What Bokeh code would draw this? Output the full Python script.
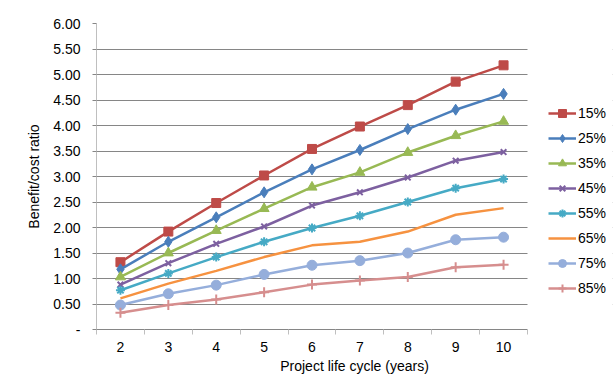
from bokeh.plotting import figure
from bokeh.models import (FixedTicker, Legend, LegendItem, CustomJSTickFormatter,
                          BoxAnnotation)
from bokeh.embed import file_html
from bokeh.resources import INLINE

years = [2, 3, 4, 5, 6, 7, 8, 9, 10]
r15 = [1.32, 1.92, 2.48, 3.02, 3.54, 3.98, 4.40, 4.86, 5.18]
r25 = [1.18, 1.72, 2.20, 2.69, 3.14, 3.52, 3.93, 4.31, 4.62]
r35 = [1.03, 1.50, 1.94, 2.37, 2.79, 3.08, 3.47, 3.80, 4.08]
r45 = [0.88, 1.30, 1.68, 2.02, 2.43, 2.69, 2.98, 3.31, 3.48]
r55 = [0.77, 1.10, 1.42, 1.72, 1.99, 2.23, 2.50, 2.77, 2.95]
r65 = [0.61, 0.90, 1.15, 1.42, 1.65, 1.72, 1.92, 2.25, 2.38]
r75 = [0.48, 0.70, 0.87, 1.08, 1.26, 1.35, 1.50, 1.76, 1.81]
r85 = [0.33, 0.48, 0.59, 0.73, 0.88, 0.96, 1.03, 1.22, 1.27]

labels = ["15%", "25%", "35%", "45%", "55%", "65%", "75%", "85%"]
series = [r15, r25, r35, r45, r55, r65, r75, r85]
colors = ["#BE4B48", "#4A7EBB", "#98B954", "#7D60A0", "#46AAC5", "#F69240", "#95AEDB", "#D68E8E"]
markers = ["square", "diamond", "triangle", "x", "asterisk", None, "circle", "cross"]
msizes = [9, 11, 10, 8, 9, 0, 10, 10]

y_ticks = [0, 0.5, 1.0, 1.5, 2.0, 2.5, 3.0, 3.5, 4.0, 4.5, 5.0, 5.5, 6.0]
grid_ticks = [0.5, 1.0, 1.5, 2.0, 2.5, 3.0, 3.5, 4.0, 4.5, 5.0, 5.5]

FONT = "Liberation Sans"

x_lo = years[0] - 0.5
x_hi = years[-1] + 0.5
# frame extends to the right so the legend can sit inside it
x_view_end = x_hi + 85 / (431 / 9)

p = figure(width=608, height=383, margin=(7, 0, 0, 8),
           x_range=(x_lo, x_view_end), y_range=(0, 6),
           output_backend="svg", toolbar_location=None,
           min_border_left=88, min_border_right=4,
           min_border_top=16, min_border_bottom=61)
p.outline_line_color = None
p.background_fill_color = "white"
p.border_fill_color = "white"

# grid
p.xgrid.visible = False
p.ygrid.ticker = FixedTicker(ticks=grid_ticks)
p.ygrid.grid_line_color = "#868686"
p.ygrid.grid_line_width = 1

# white mask covering grid lines right of the plot area
mask = BoxAnnotation(left=x_hi, fill_color="white", fill_alpha=1.0,
                     line_color=None, level="underlay")
p.add_layout(mask)

items = []
for lab, vals, col, mk, ms in zip(labels, series, colors, markers, msizes):
    rs = [p.line(years, vals, line_color=col, line_width=2.5)]
    if mk is not None:
        lw = 2 if mk in ("x", "asterisk", "cross") else 1
        rs.append(p.scatter(years, vals, marker=mk, size=ms, fill_color=col,
                            line_color=col, line_width=lw))
    items.append(LegendItem(label=lab, renderers=rs))

legend = Legend(items=items, location=(452, 31), padding=0, margin=0,
                spacing=5, glyph_width=28, glyph_height=20, label_height=20,
                label_standoff=2, border_line_color=None,
                background_fill_alpha=0,
                label_text_font=FONT, label_text_font_size="14px",
                label_text_color="black")
p.add_layout(legend, "center")

# y axis
ya = p.yaxis[0]
ya.ticker = FixedTicker(ticks=y_ticks)
ya.formatter = CustomJSTickFormatter(code="return tick == 0 ? '-' : tick.toFixed(2);")
ya.axis_line_color = "#bfbfbf"
ya.major_tick_line_color = "#868686"
ya.major_tick_out = 4
ya.major_tick_in = 0
ya.minor_tick_line_color = None
ya.major_label_standoff = 12
ya.major_label_text_font = FONT
ya.major_label_text_font_size = "14px"
ya.major_label_text_color = "black"
ya.axis_label = "Benefit/cost ratio"
ya.axis_label_text_font = FONT
ya.axis_label_text_font_size = "14px"
ya.axis_label_text_font_style = "normal"
ya.axis_label_text_color = "black"
ya.axis_label_standoff = 8

# x axis
xa = p.xaxis[0]
bounds = [y - 0.5 for y in years] + [years[-1] + 0.5]
xa.bounds = (x_lo, x_hi)
xa.ticker = FixedTicker(ticks=years, minor_ticks=bounds)
xa.axis_line_color = "#868686"
xa.major_tick_line_color = None
xa.major_tick_out = 0
xa.major_tick_in = 0
xa.minor_tick_line_color = "#bfbfbf"
xa.minor_tick_out = 5
xa.minor_tick_in = 0
xa.major_label_standoff = 7
xa.major_label_text_font = FONT
xa.major_label_text_font_size = "14px"
xa.major_label_text_color = "black"
xa.axis_label = "Project life cycle (years)"
xa.axis_label_text_font = FONT
xa.axis_label_text_font_size = "14px"
xa.axis_label_text_font_style = "normal"
xa.axis_label_text_color = "black"
xa.axis_label_standoff = 3

open("out.html", "w").write(file_html(p, INLINE))
